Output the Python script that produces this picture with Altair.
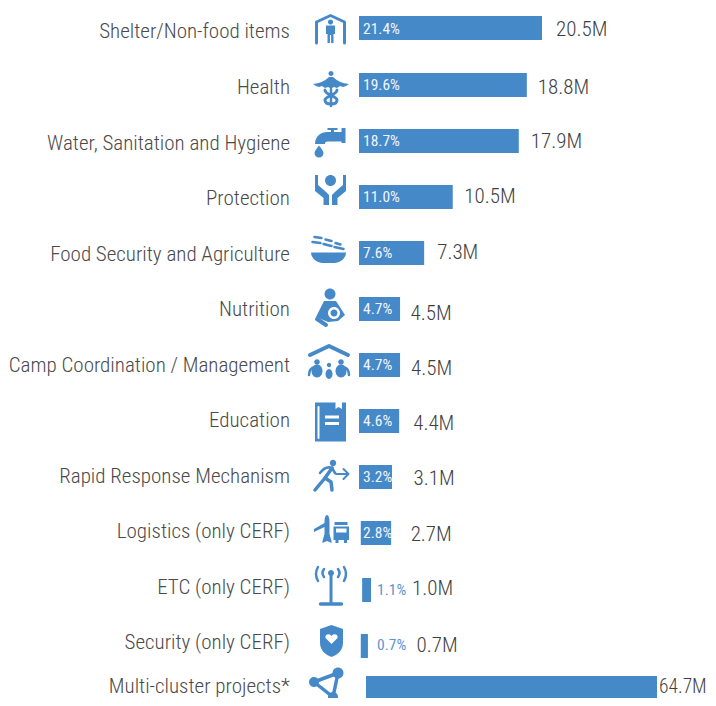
import altair as alt
import pandas as pd

categories = ["Shelter/Non-food items", "Health", "Water, Sanitation and Hygiene", "Protection",
              "Food Security and Agriculture", "Nutrition", "Camp Coordination / Management",
              "Education", "Rapid Response Mechanism", "Logistics (only CERF)", "ETC (only CERF)",
              "Security (only CERF)", "Multi-cluster projects*"]
value_labels = ["20.5M", "18.8M", "17.9M", "10.5M", "7.3M", "4.5M", "4.5M", "4.4M", "3.1M", "2.7M", "1.0M", "0.7M", "64.7M"]
pct_labels = ["21.4%", "19.6%", "18.7%", "11.0%", "7.6%", "4.7%", "4.7%", "4.6%", "3.2%", "2.8%", "1.1%", "0.7%"]
bar_start = [0, 0, 0, 0, 0, 0, 0, 0, 0, 0.2, 0.35, 0.2, 0]
bar_end = [20.5, 18.8, 17.9, 10.5, 7.3, 4.6, 4.6, 4.5, 3.7, 3.6, 1.35, 1.0, 64.7]

# layout nudges (pixels), kept apart from the data above
bar_dy = [-1, 0, 0, 0, 0, 0, 0, 0, 0, 0, 1, 1, -13]
label_dy = [3, 2.5, 2.5, 1.5, 2, 1, 1, 0, 0, -1, -1, -2, -14]
value_dy = [1, 3, 1, -0.5, 0, 5, 4, 3, 2, 2, 0, 0.5, -14]
value_gap = [14, 11, 12, 11.5, 13, 10.5, 11, 14, 21.5, 19.5, 41, 48.5, 2]
pct_dx = [4, 4, 4, 4, 4, 4, 4, 4, 4, 4, 18, 18]
pct_dy = [0, 0, 0, 0, 0, 0, 0, 0, 0, 0, 1, 0]
icon_dx = [0, 0.5, 0, 0, -2, -0.5, -1.5, 0, 0.5, 1, 0.5, 1, -3.5]
icon_dy = [0, 4, 1.5, -7, -3.5, -1, -2, 1, -1, -4, -2, -4, -16]

BLUE = "#4589C9"
LIGHT = "#5B96D0"
FONT = "Roboto Condensed"
PX_MAIN = 183 / 20.5
PX_MULTI = 291 / 64.7
HALF_BAND = 12


def circ(x, y, r, ry=None):
    ry = r if ry is None else ry
    return f"M{x-r},{y}A{r},{ry} 0 1,1 {x+r},{y}A{r},{ry} 0 1,1 {x-r},{y}Z"


def F(p, c=BLUE):
    return (p, c, "transparent", 0)


def S(p, w, c=BLUE):
    return (p, "transparent", c, w)


icons = [
    [S("M-14,14V-7L0,-13.5L14,-7V14", 3), F(circ(0, -7, 2.6)),
     F("M-4.5,-3.5H4.5V5H3V14H0.6V6H-0.6V14H-3V5H-4.5Z")],
    [F(circ(0, -15.5, 2.5)),
     F("M-18,-5Q-8,-6 -2,-12L2,-12Q8,-6 18,-5L15,-3L12,-2L9,-3L6,-1L3,-2L0,-0.5L-3,-2L-6,-1L-9,-3L-12,-2L-15,-3Z"),
     S("M-6,1C-6,6 6,7 6,11C6,14 3,15 0,15", 3), S("M6,1C6,6 -6,7 -6,11C-6,14 -3,15 0,15", 3),
     S("M0,0V17", 2.5)],
    [F("M11,-14.5H15V0.5H11V-1H-3C-5,-1 -5.5,0 -5.5,1.5H-15.5C-15.5,-6 -10,-10.5 -3,-10.5H11Z"),
     F("M-3,-14.5H7V-12.5H3.5V-10H0.5V-12.5H-3Z"),
     F("M-11.5,3C-9,6 -7,8.5 -7,10.5A4.5,4.5 0 0 1 -16,10.5C-16,8.5 -14,6 -11.5,3Z")],
    [F(circ(0, -9.5, 5.5)),
     F("M-15.5,-15L-12.5,-15V-5L-5.5,1L-1.5,5V15H-7V8L-15.5,1Z"),
     F("M15.5,-15L12.5,-15V-5L5.5,1L1.5,5V15H7V8L15.5,1Z")],
    [F("M-17.5,3H17.5C17.5,9 11,13.5 6,13.5H-6C-11,13.5 -17.5,9 -17.5,3Z"),
     S("M-14,-12.5L-7,-11.5", 2.5), S("M-3,-10L3,-8.5", 2.5), S("M7,-6.5L12,-5", 2.5),
     S("M-16,-7.5L-8,-6.5", 2.5), S("M-5,-5.5L3,-3.5", 2.5), S("M6,-2.5L15,-0.5", 2.5)],
    [F(circ(0, -14, 5.5)), F("M-6,-7H6L15,7L8,13L-2,14L-14,9Z"),
     S("M-13,11L-4,17", 4), F(circ(4, 5, 6), "#FFFFFF"), F(circ(4, 5, 3.5))],
    [S("M-19,-8L0,-17L19,-8", 4), F(circ(-12, -1, 2.8)), F(circ(12, -1, 2.8)), F(circ(0, 2, 2.2)),
     F(circ(-12, 8, 5.5, 6.5)), F(circ(12, 8, 5.5, 6.5)), F(circ(0, 11, 3.5, 5)),
     S("M-20,12Q-20,5 -14,4", 2.5), S("M20,12Q20,5 14,4", 2.5)],
    [F("M-15.5,-19.5H15.5V19.5H-15.5Z"), S("M-12,-15V16", 2, "#FFFFFF"),
     F("M5,-20H11.5V-13L8,-15L5,-13Z", "#FFFFFF"),
     F("M-5.5,-6.5H8.5V-3.5H-5.5Z", "#FFFFFF"), F("M-5.5,0H8.5V3H-5.5Z", "#FFFFFF")],
    [F(circ(2, -13, 3.2)), S("M1,-8L-6,2L-16,14", 3.5), S("M-6,2L0,6L1,14", 3.5),
     S("M1,-8C-4,-10 -8,-7 -11,-3", 2.5), S("M1,-8L4,-3", 2.5),
     S("M5,-2H17M12.5,-7L17.5,-2L12.5,3", 2)],
    [F("M-4.5,-14C-2.5,-14 -2,-10 -2,-7V5L0,12V14L-4.5,12L-9,14V12L-7,5V-2L-17.5,3V0L-7,-6C-7,-10 -6.5,-14 -4.5,-14Z"),
     F("M3,-7H16V-4H3Z"), F("M2,-2.5H17.5V11H15.5V14H12.5V11H7V14H4V11H2Z"),
     F("M4.5,-0.5H15V3.5H4.5Z", "#FFFFFF")],
    [F(circ(0, -14, 3)), S("M0,-14V16", 3), S("M-10.5,17H10.5", 3.5),
     S("M-13,-20Q-17,-13 -13,-6", 2.5), S("M13,-20Q17,-13 13,-6", 2.5),
     S("M-7,-18Q-10,-14 -7,-10", 2.5), S("M7,-18Q10,-14 7,-10", 2.5)],
    [F("M0,-16L11.5,-12V2C11.5,9 6,14 0,16C-6,14 -11.5,9 -11.5,2V-12Z"),
     F("M0,3L-6,-3C-7,-7 -2,-8 0,-5C2,-8 7,-7 6,-3Z", "#FFFFFF")],
    [S("M11,-12L-13,-3L6,12Z", 3.5), F(circ(11, -12, 5.5)), F(circ(-13, -3, 5)), F(circ(6, 12, 5))],
]

rows = pd.DataFrame({
    "cat": categories, "value": value_labels, "start": bar_start, "end": bar_end,
    "bar_dy": bar_dy, "label_dy": [d + HALF_BAND for d in label_dy],
    "value_dy": [d + HALF_BAND for d in value_dy], "gap": value_gap,
})
rows["value_pos"] = rows["end"] + rows["gap"] / PX_MAIN
rows.loc[12, "value_pos"] = rows.loc[12, "end"] + rows.loc[12, "gap"] / PX_MULTI
main = rows.iloc[:12]
multi = rows.iloc[12:]
pct = pd.DataFrame({"cat": categories[:12], "pct": pct_labels,
                    "pos": [d / PX_MAIN for d in pct_dx], "dy": [d + HALF_BAND for d in pct_dy]})
parts = pd.DataFrame([
    {"cat": categories[i], "path": p, "fill": f, "stroke": s, "sw": w,
     "pos": (-28.5 + icon_dx[i]) / PX_MAIN, "dy": icon_dy[i] + HALF_BAND, "k": j}
    for i, icon in enumerate(icons) for j, (p, f, s, w) in enumerate(icon)
])

y_scale = alt.Scale(domain=categories, range=[0, 714], paddingInner=32 / 56, paddingOuter=9 / 56)
Y = alt.Y("cat:N", scale=y_scale, axis=None)
X_MAIN = alt.Scale(domain=[0, 20.5], range=[351, 534])
X_MULTI = alt.Scale(domain=[0, 64.7], range=[358, 649])


def bars(df, xs):
    return alt.Chart(df).mark_bar(color=BLUE).encode(
        x=alt.X("start:Q", scale=xs, axis=None), x2="end:Q", y=Y,
        yOffset=alt.YOffset("bar_dy:Q", scale=None))


def values(df, xs, size=21):
    return alt.Chart(df).mark_text(align="left", baseline="middle", font=FONT, fontSize=size,
                                   fontWeight=300, color="#3F3F3F").encode(
        x=alt.X("value_pos:Q", scale=xs, axis=None), y=Y,
        yOffset=alt.YOffset("value_dy:Q", scale=None),
        text="value:N")


def pct_layer(df, color):
    return alt.Chart(df).mark_text(align="left", baseline="middle", font=FONT, fontSize=15.5,
                                   color=color).encode(
        x=alt.X("pos:Q", scale=X_MAIN, axis=None), y=Y,
        yOffset=alt.YOffset("dy:Q", scale=None),
        text="pct:N")


labels = alt.Chart(rows).mark_text(align="right", baseline="middle", font=FONT, fontSize=21,
                                   fontWeight=300, color="#4A4A4A").encode(
    x=alt.value(282), y=Y, yOffset=alt.YOffset("label_dy:Q", scale=None), text="cat:N")

icon_layer = alt.Chart(parts).mark_point(filled=True, size=4, opacity=1, strokeCap="round", strokeJoin="round").encode(
    x=alt.X("pos:Q", scale=X_MAIN, axis=None), y=Y,
    yOffset=alt.YOffset("dy:Q", scale=None),
    shape=alt.Shape("path:N", scale=None),
    fill=alt.Fill("fill:N", scale=None), stroke=alt.Stroke("stroke:N", scale=None),
    strokeWidth=alt.StrokeWidth("sw:Q", scale=None),
    order="k:Q")

chart = alt.layer(
    labels, icon_layer, bars(main, X_MAIN), values(main, X_MAIN),
    pct_layer(pct.iloc[:10], "#F2F6FB"), pct_layer(pct.iloc[10:], LIGHT),
    bars(multi, X_MULTI), values(multi, X_MULTI, 19.5),
).resolve_scale(x="independent").properties(
    width=700, height=690, padding=0, autosize=alt.AutoSizeParams(type="none"),
).configure_view(stroke=None)

chart.save("out.html", embed_options={"renderer": "svg", "actions": False})
